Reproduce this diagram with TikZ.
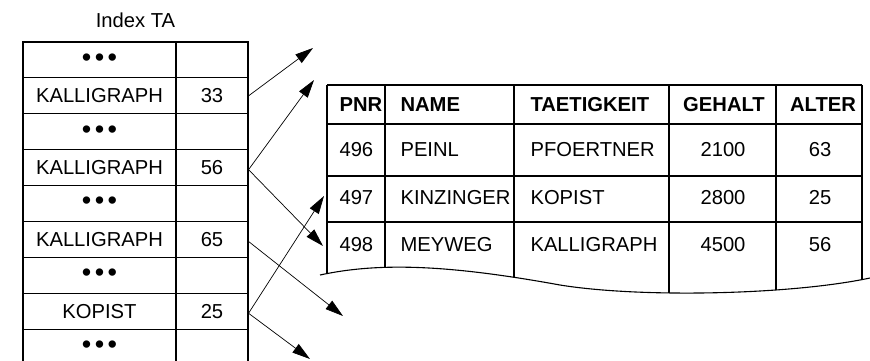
\documentclass[tikz,border=0pt]{standalone}
\usepackage{fontspec}
\setmainfont{Liberation Sans}
\usetikzlibrary{arrows.meta}

\newcommand{\threedots}{{\fontsize{27}{27}\selectfont\textbullet\kern3.5pt\textbullet\kern3.5pt\textbullet}}

\begin{document}
\begin{tikzpicture}[
  x=1pt, y=-1pt,
  font=\fontsize{20.2}{24}\selectfont,
  cell/.style={draw, line width=1.1pt, inner sep=0pt, minimum height=35.9pt},
  keycell/.style={cell, minimum width=153pt},
  ptrcell/.style={cell, minimum width=72pt},
  grid/.style={line width=1.1pt},
  arr/.style={-{Triangle[length=18pt,width=10.5pt]}, line width=0.7pt},
  hd/.style={font=\fontsize{20.2}{24}\selectfont\bfseries},
  lt/.style={anchor=west}
]
\useasboundingbox (0,0) rectangle (870,360);

% index on TAETIGKEIT
\node (title) at (135.5,20) {Index TA};
\node[keycell] (k1) at (99.5,59.95) {\threedots};
\node[ptrcell] (p1) at (212,59.95) {};
\node[keycell] (k2) at (99.5,95.85) {KALLIGRAPH};
\node[ptrcell] (p2) at (212,95.85) {33};
\node[keycell] (k3) at (99.5,131.75) {\threedots};
\node[ptrcell] (p3) at (212,131.75) {};
\node[keycell] (k4) at (99.5,167.65) {KALLIGRAPH};
\node[ptrcell] (p4) at (212,167.65) {56};
\node[keycell] (k5) at (99.5,203.55) {\threedots};
\node[ptrcell] (p5) at (212,203.55) {};
\node[keycell] (k6) at (99.5,239.45) {KALLIGRAPH};
\node[ptrcell] (p6) at (212,239.45) {65};
\node[keycell] (k7) at (99.5,275.35) {\threedots};
\node[ptrcell] (p7) at (212,275.35) {};
\node[keycell] (k8) at (99.5,311.25) {KOPIST};
\node[ptrcell] (p8) at (212,311.25) {25};
\node[keycell] (k9) at (99.5,347.15) {\threedots};
\node[ptrcell] (p9) at (212,347.15) {};

% relation PERS, cut off below
\begin{scope}
  \clip (320,60) -- (320,275) .. controls (380,262) and (450,265) .. (560,285)
        .. controls (640,298) and (790,295) .. (870,278) -- (870,60) -- cycle;
  \draw[grid] (327,85) -- (862,85);
  \draw[grid] (327,124) -- (862,124);
  \draw[grid] (327,176) -- (862,176);
  \draw[grid] (327,222) -- (862,222);
  \draw[grid] (327,85) -- (327,320);
  \draw[grid] (385,85) -- (385,320);
  \draw[grid] (514,85) -- (514,320);
  \draw[grid] (669,85) -- (669,320);
  \draw[grid] (776,85) -- (776,320);
  \draw[grid] (862,85) -- (862,320);
\end{scope}
\draw[grid] (320,275) .. controls (380,262) and (450,265) .. (560,285)
      .. controls (640,298) and (790,295) .. (870,278);

\node[hd, lt] (pnr) at (336,104.5) {PNR};
\node[hd, lt] (name) at (397,104.5) {NAME};
\node[hd, lt] (taet) at (527,104.5) {TAETIGKEIT};
\node[hd] (geh) at (724,104.5) {GEHALT};
\node[hd] (alt) at (823,104.5) {ALTER};

\node[lt] (p496) at (336,150) {496};
\node[lt] (n496) at (397,150) {PEINL};
\node[lt] (t496) at (527,150) {PFOERTNER};
\node (g496) at (723,150) {2100};
\node (a496) at (820,150) {63};

\node[lt] (p497) at (336,198) {497};
\node[lt] (n497) at (397,198) {KINZINGER};
\node[lt] (t497) at (527,198) {KOPIST};
\node (g497) at (723,198) {2800};
\node (a497) at (820,198) {25};

\node[lt] (p498) at (336,245) {498};
\node[lt] (n498) at (397,245) {MEYWEG};
\node[lt] (t498) at (527,245) {KALLIGRAPH};
\node (g498) at (723,245) {4500};
\node (a498) at (820,245) {56};

% pointers
\coordinate (t1) at (313,48);
\coordinate (t2) at (314,80);
\coordinate (t3) at (323,246);
\coordinate (t4) at (324,196);
\coordinate (t5) at (343,316);
\coordinate (t6) at (310,359);

\draw[arr] (p2.east) -- (t1);
\draw[arr] ([yshift=-2pt]p4.east) -- (t2);
\draw[arr] ([yshift=-2pt]p4.east) -- (t3);
\draw[arr] ([yshift=-2pt]p6.east) -- (t5);
\draw[arr] ([yshift=-2pt]p8.east) -- (t4);
\draw[arr] ([yshift=-2pt]p8.east) -- (t6);
\end{tikzpicture}
\end{document}
